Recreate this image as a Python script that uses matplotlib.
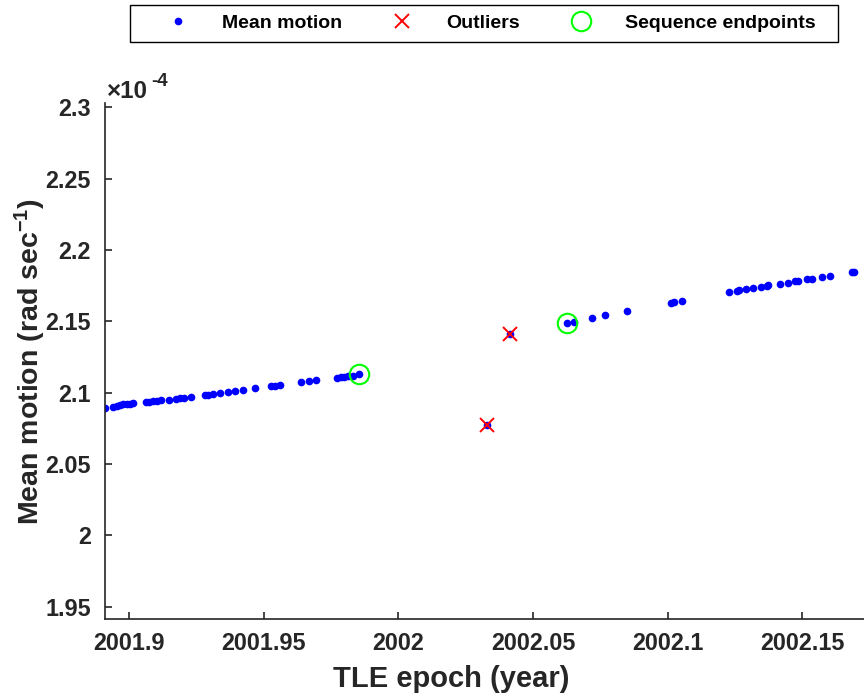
import numpy as np
import matplotlib.pyplot as plt
from matplotlib.patches import Rectangle

# TLE epoch (decimal year) and mean motion (x 1e-4 rad/s)
# first sequence
epoch_a = [2001.8910, 2001.8938, 2001.8953, 2001.8965, 2001.8978, 2001.8990, 2001.9003,
           2001.9014, 2001.9062, 2001.9074, 2001.9089, 2001.9103, 2001.9117, 2001.9146,
           2001.9175, 2001.9190, 2001.9202, 2001.9230, 2001.9281, 2001.9294, 2001.9310,
           2001.9337, 2001.9365, 2001.9393, 2001.9421, 2001.9467, 2001.9527, 2001.9542,
           2001.9560, 2001.9638, 2001.9667, 2001.9694, 2001.9772, 2001.9785, 2001.9799,
           2001.9813, 2001.9831, 2001.9855]
motion_a = [2.0895, 2.0902, 2.0909, 2.0914, 2.0919, 2.0921, 2.0923,
            2.0926, 2.0933, 2.0935, 2.0940, 2.0944, 2.0947, 2.0951,
            2.0958, 2.0961, 2.0965, 2.0972, 2.0984, 2.0986, 2.0991,
            2.0998, 2.1003, 2.1012, 2.1019, 2.1031, 2.1045, 2.1049,
            2.1056, 2.1077, 2.1084, 2.1089, 2.1105, 2.1108, 2.1110,
            2.1115, 2.1119, 2.1131]

# second sequence
epoch_b = [2002.0628, 2002.0654, 2002.0720, 2002.0767, 2002.0849, 2002.1014, 2002.1023,
           2002.1052, 2002.1227, 2002.1257, 2002.1267, 2002.1291, 2002.1317, 2002.1346,
           2002.1368, 2002.1375, 2002.1419, 2002.1446, 2002.1475, 2002.1483, 2002.1519,
           2002.1537, 2002.1574, 2002.1602, 2002.1684, 2002.1691]
motion_b = [2.1485, 2.1495, 2.1523, 2.1542, 2.1575, 2.1631, 2.1632,
            2.1643, 2.1708, 2.1716, 2.1721, 2.1728, 2.1735, 2.1743,
            2.1749, 2.1753, 2.1764, 2.1772, 2.1782, 2.1785, 2.1795,
            2.1799, 2.1812, 2.1821, 2.1846, 2.1849]

outlier_epoch = [2002.0329, 2002.0415]
outlier_motion = [2.0771, 2.1409]

endpoint_epoch = [2001.9855, 2002.0628]
endpoint_motion = [2.1131, 2.1485]

epoch = epoch_a + outlier_epoch + epoch_b
motion = motion_a + outlier_motion + motion_b

xticks = [2001.9, 2001.95, 2002, 2002.05, 2002.1, 2002.15]
xticklabels = ['2001.9', '2001.95', '2002', '2002.05', '2002.1', '2002.15']
yticks = [1.95, 2.0, 2.05, 2.1, 2.15, 2.2, 2.25, 2.3]
yticklabels = ['1.95', '2', '2.05', '2.1', '2.15', '2.2', '2.25', '2.3']

txt = '#262626'
plt.rcParams['font.family'] = ['Liberation Sans', 'DejaVu Sans']
plt.rcParams['font.weight'] = 'bold'
plt.rcParams['axes.labelweight'] = 'bold'
plt.rcParams['mathtext.fontset'] = 'custom'
plt.rcParams['mathtext.rm'] = 'Liberation Sans:bold'
plt.rcParams['mathtext.bf'] = 'Liberation Sans:bold'
plt.rcParams['mathtext.it'] = 'Liberation Sans:italic:bold'

W, H = 864, 693
fig = plt.figure(figsize=(8.64, 6.93), dpi=100)
ax = fig.add_axes([0.1212, 0.1063, 0.8788, 0.7447])

h1, = ax.plot(epoch, motion, '.', color='blue', markersize=9, label='Mean motion')
h2, = ax.plot(outlier_epoch, outlier_motion, 'x', color='red', markersize=10,
              markeredgewidth=1.4, label='Outliers')
h3, = ax.plot(endpoint_epoch, endpoint_motion, 'o', color='#00ff00', markerfacecolor='none',
              markersize=14, markeredgewidth=1.5, label='Sequence endpoints')

ax.set_xlim(2001.89085, 2002.173)
ax.set_ylim(1.9412, 2.3028)
ax.set_xticks(xticks)
ax.set_xticklabels(xticklabels)
ax.set_yticks(yticks)
ax.set_yticklabels(yticklabels)

for s in ['top', 'right']:
    ax.spines[s].set_visible(False)
for s in ['left', 'bottom']:
    ax.spines[s].set_color(txt)
    ax.spines[s].set_linewidth(1.2)

ax.tick_params(direction='in', length=5, width=1.2, colors=txt, labelsize=16.8)
ax.tick_params(axis='y', pad=10)
ax.tick_params(axis='x', pad=9)

ax.set_xlabel('TLE epoch (year)', fontsize=21, color=txt)
ax.set_ylabel('Mean motion (rad sec$^{-1}$)', fontsize=20.5, color=txt)
ax.xaxis.set_label_coords(0.457, -0.089)
ax.yaxis.set_label_coords(-0.0747, 0.5)

# exponent of the y axis
fig.text(107 / W, 1 - 98 / H, '\u00d710', fontsize=17.5, color=txt, va='baseline')
fig.text(151 / W, 1 - 86 / H, '-4', fontsize=13.5, color=txt, va='baseline')

# legend row above the axes, with its own box
fig.add_artist(Rectangle((130 / W, 1 - 42 / H), 708 / W, 37 / H, transform=fig.transFigure,
                         facecolor='white', edgecolor='black', linewidth=1.0))
leg = fig.legend(handles=[h1, h2, h3], loc='center left', bbox_to_anchor=(158.5 / W, 1 - 23.5 / H),
                 ncol=3, fontsize=14, frameon=False, handlelength=2.0, columnspacing=2.1,
                 handletextpad=1.27, borderpad=0, borderaxespad=0)

fig.savefig('out.png', dpi=100)
